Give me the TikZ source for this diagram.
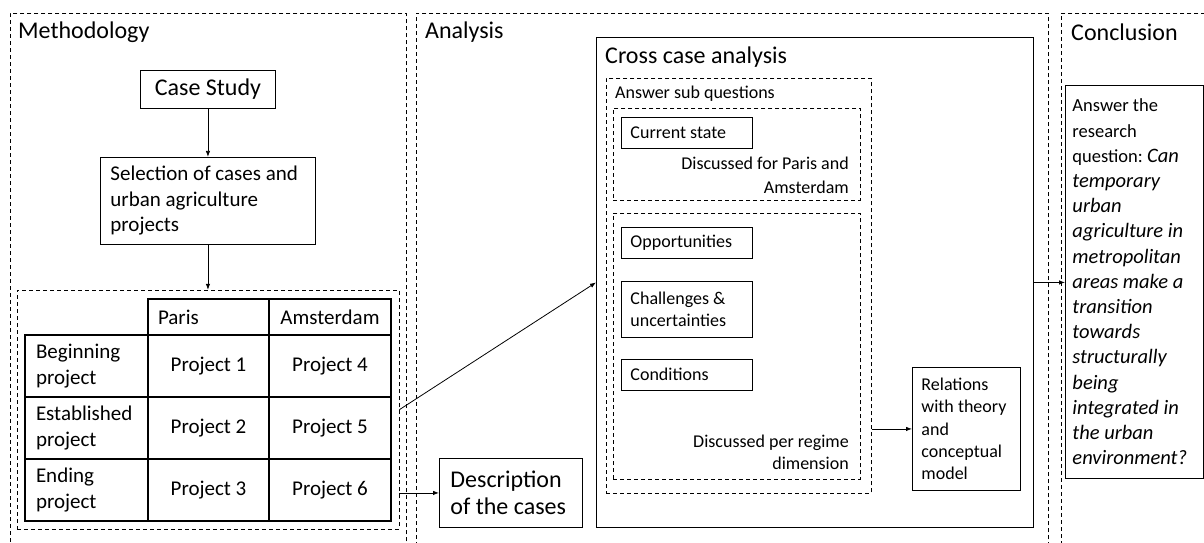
\documentclass[tikz,border=0pt]{standalone}
\usepackage{fontspec}
\setmainfont{Carlito}
\usepackage{tikz}
\usetikzlibrary{positioning,arrows.meta}
\frenchspacing

\begin{document}
\begin{tikzpicture}[x=1pt, y=-1pt, >={Latex[length=6pt,width=4.5pt]},
    frame/.style={draw, dash pattern=on 4pt off 3pt, line width=0.8pt, inner sep=0pt, anchor=north west},
    box/.style={draw, line width=0.9pt, inner sep=0pt, anchor=north west},
    cell/.style={draw, line width=2pt, inner sep=0pt, anchor=north west, font=\fontsize{21}{26}\selectfont},
    title/.style={anchor=west, inner sep=0pt, font=\fontsize{24}{28}\selectfont},
    small/.style={font=\fontsize{18}{23}\selectfont},
    arr/.style={->, line width=0.8pt}]
  \useasboundingbox (0,0) rectangle (1204,543);
  \clip (0,0) rectangle (1204,543);

  % three phases
  \node (meth) [frame, minimum width=396pt, minimum height=545pt] at (10,13) {};
  \node (anal) [frame, minimum width=632pt, minimum height=545pt] at (416,13) {};
  \node (concl) [frame, minimum width=160pt, minimum height=545pt] at (1061,13) {};
  \node (methtitle) [title] at (18,32) {Methodology};
  \node (analtitle) [title] at (425,32) {Analysis};
  \node (concltitle) [title] at (1071,32) {Conclusion};

  % methodology
  \node (case) [box, minimum width=135pt, minimum height=38pt, font=\fontsize{24}{28}\selectfont] at (140,70) {Case Study};
  \node (sel) [box, text width=195pt, inner xsep=10pt, minimum height=87pt, align=flush left, font=\fontsize{21}{25.5}\selectfont, below=48pt of case] {Selection of cases and\\urban agriculture\\projects};
  \node (tblframe) [frame, minimum width=382pt, minimum height=239pt, below=45pt of sel] {};

  \node (hparis) [cell, minimum height=36pt, text width=101pt, inner xsep=10pt, align=flush left] at (147,298) {Paris};
  \node (hams) [cell, minimum width=122pt, minimum height=36pt] at (268,298) {Amsterdam};
  \node (begin) [cell, minimum height=62pt, text width=101pt, inner xsep=11pt, align=flush left] at (24,334) {Beginning\\project};
  \node (estab) [cell, minimum height=62pt, text width=101pt, inner xsep=11pt, align=flush left] at (24,396) {Established\\project};
  \node (ending) [cell, minimum height=62pt, text width=101pt, inner xsep=11pt, align=flush left] at (24,458) {Ending\\project};
  \node (proj1) [cell, minimum width=121pt, minimum height=62pt] at (147,334) {Project 1};
  \node (proj2) [cell, minimum width=121pt, minimum height=62pt] at (147,396) {Project 2};
  \node (proj3) [cell, minimum width=121pt, minimum height=62pt] at (147,458) {Project 3};
  \node (proj4) [cell, minimum width=122pt, minimum height=62pt] at (268,334) {Project 4};
  \node (proj5) [cell, minimum width=122pt, minimum height=62pt] at (268,396) {Project 5};
  \node (proj6) [cell, minimum width=122pt, minimum height=62pt] at (268,458) {Project 6};

  % analysis
  \node (desc) [box, text width=121pt, inner xsep=11pt, minimum height=69pt, align=flush left, font=\fontsize{24}{27}\selectfont] at (439,458) {Description\\of the cases};
  \node (cross) [box, minimum width=437pt, minimum height=490pt] at (596,37) {};
  \node (crosstitle) [title] at (605,57) {Cross case analysis};
  \node (subq) [frame, minimum width=265pt, minimum height=415pt] at (606,78) {};
  \node (subqtitle) [small, anchor=west, inner sep=0pt] at (615,94) {Answer sub questions};

  \node (statefr) [frame, minimum width=247pt, minimum height=92pt] at (613,108) {};
  \node (state) [box, small, minimum height=31pt, text width=113pt, inner xsep=9pt, align=flush left] at (621,117) {Current state};
  \node (statenote) [small, align=flush right, anchor=east, inner sep=0pt, font=\fontsize{18}{24}\selectfont] at (849,175) {Discussed for Paris and\\Amsterdam};

  \node (regimefr) [frame, minimum width=247pt, minimum height=266pt] at (613,213) {};
  \node (opp) [box, small, minimum height=31pt, text width=113pt, inner xsep=9pt, align=flush left] at (621,227) {Opportunities};
  \node (chal) [box, small, minimum height=56pt, text width=113pt, inner xsep=9pt, align=flush left, font=\fontsize{18}{22}\selectfont, below=22pt of opp] {Challenges \&\\uncertainties};
  \node (cond) [box, small, minimum height=31pt, text width=113pt, inner xsep=9pt, align=flush left, below=21pt of chal] {Conditions};
  \node (regimenote) [small, align=flush right, anchor=east, inner sep=0pt, font=\fontsize{18}{22}\selectfont] at (849,452) {Discussed per regime\\dimension};

  \node (rel) [box, text width=90pt, inner xsep=9pt, minimum height=123pt, align=flush left, font=\fontsize{18}{22.3}\selectfont] at (912,367) {Relations\\with theory\\and\\conceptual\\model};

  % conclusion
  \node (answer) [box, text width=124pt, inner xsep=7pt, minimum height=393pt, align=flush left, font=\fontsize{18.5}{25.2}\selectfont] at (1065,85) {Answer the\\research\\question: {\fontsize{20.5}{25.2}\selectfont\itshape Can\\temporary\\urban\\agriculture in\\metropolitan\\areas make a\\transition\\towards\\structurally\\being\\integrated in\\the urban\\environment?}};

  % connectors
  \draw[arr] (case) -- (sel);
  \draw[arr] (sel) -- (tblframe);
  \draw[arr] (tblframe.east) -- (cross.west);
  \draw[arr] (tblframe.east |- desc.west) -- (desc.west);
  \draw[arr] (subq.east |- rel.west) -- (rel.west);
  \draw[arr] (cross.east) -- (answer.west |- cross.east);
\end{tikzpicture}
\end{document}
